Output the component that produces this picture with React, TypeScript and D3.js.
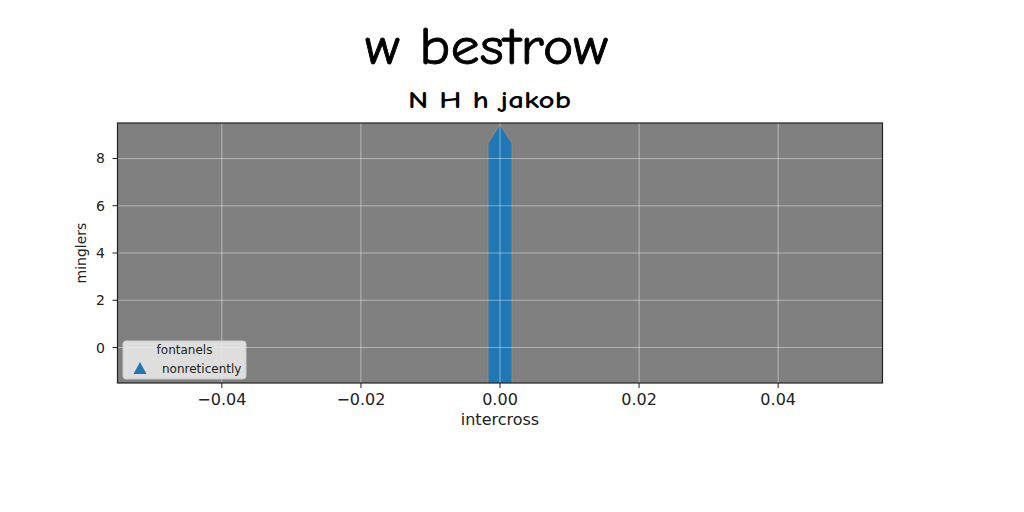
import { scaleLinear, format } from 'd3';

// chart values
const arrowX = [0];
const arrowTail = [-1.5];
const arrowTip = [9.45];
const xTicks = [-0.04, -0.02, 0, 0.02, 0.04];
const yTicks = [0, 2, 4, 6, 8];
const xDomain = [-0.055, 0.055];
const yDomain = [-1.5, 9.5];
const legendTitle = 'fontanels';
const legendLabel = 'nonreticently';

const W = 1024;
const H = 512;
const plot = { left: 117.5, right: 882.5, top: 123, bottom: 383 };

const App = () => {
  const x = scaleLinear().domain(xDomain).range([plot.left, plot.right]);
  const y = scaleLinear().domain(yDomain).range([plot.bottom, plot.top]);
  const fx = format('.2f');
  const sans = "'DejaVu Sans', sans-serif";
  const comic = "'Comic Sans MS', 'Comic Neue', 'DejaVu Sans', sans-serif";

  const halfW = 12;
  const headLen = 19;
  const arrows = arrowX.map((v, i) => {
    const cx = x(v);
    const ty = y(arrowTip[i]);
    const by = y(arrowTail[i]) + 4;
    return `M${cx - halfW},${by}L${cx - halfW},${ty + headLen}L${cx},${ty}L${cx + halfW},${ty + headLen}L${cx + halfW},${by}Z`;
  });

  return (
    <svg
      width={W}
      height={H}
      style={{ position: 'absolute', left: 0, top: 0, background: '#fff' }}
    >
      <defs>
        <clipPath id="plotclip">
          <rect x={plot.left} y={plot.top} width={plot.right - plot.left} height={plot.bottom - plot.top} />
        </clipPath>
      </defs>
      <text
        x={486.5}
        y={64}
        textAnchor="middle"
        fontFamily={comic}
        fontSize={52}
        stroke="#000"
        strokeWidth={0.8}
        textLength={243}
        lengthAdjust="spacingAndGlyphs"
        fill="#000"
      >
        w bestrow
      </text>
      <text
        x={489.5}
        y={108}
        textAnchor="middle"
        fontFamily={comic}
        fontSize={25}
        fontWeight="bold"
        textLength={163}
        lengthAdjust="spacingAndGlyphs"
        fill="#000"
      >
        N H h jakob
      </text>

      <rect x={plot.left} y={plot.top} width={plot.right - plot.left} height={plot.bottom - plot.top} fill="#808080" />

      <g clipPath="url(#plotclip)">
        {arrows.map((d, i) => (
          <path key={i} d={d} fill="#1f77b4" stroke="#9c8c78" strokeOpacity={0.6} strokeWidth={1.5} />
        ))}
        {xTicks.map((t) => (
          <line key={'gx' + t} x1={x(t)} x2={x(t)} y1={plot.top} y2={plot.bottom} stroke="#fff" strokeOpacity={0.4} strokeWidth={1.1} />
        ))}
        {yTicks.map((t) => (
          <line key={'gy' + t} x1={plot.left} x2={plot.right} y1={y(t)} y2={y(t)} stroke="#fff" strokeOpacity={0.4} strokeWidth={1.1} />
        ))}
      </g>

      <rect
        x={plot.left}
        y={plot.top}
        width={plot.right - plot.left}
        height={plot.bottom - plot.top}
        fill="none"
        stroke="#222"
        strokeWidth={1.2}
      />

      {xTicks.map((t) => (
        <g key={'tx' + t}>
          <line x1={x(t)} x2={x(t)} y1={plot.bottom} y2={plot.bottom + 5} stroke="#222" strokeWidth={1} />
          <text x={x(t)} y={405} textAnchor="middle" fontFamily={sans} fontSize={16} fill="#222">
            {fx(t)}
          </text>
        </g>
      ))}
      {yTicks.map((t) => (
        <g key={'ty' + t}>
          <line x1={plot.left - 5} x2={plot.left} y1={y(t)} y2={y(t)} stroke="#222" strokeWidth={1} />
          <text x={105} y={y(t) + 5} textAnchor="end" fontFamily={sans} fontSize={14} fill="#222">
            {t}
          </text>
        </g>
      ))}

      <text x={500} y={425} textAnchor="middle" fontFamily={sans} fontSize={16} fill="#222">
        intercross
      </text>
      <text
        transform={`translate(86,${(plot.top + plot.bottom) / 2}) rotate(-90)`}
        textAnchor="middle"
        fontFamily={sans}
        fontSize={14}
        fill="#222"
      >
        minglers
      </text>

      <g>
        <rect x={123} y={341} width={123} height={38} rx={3} fill="#e8e8e8" fillOpacity={0.9} stroke="#cccccc" strokeWidth={1} />
        <text x={184.5} y={354} textAnchor="middle" fontFamily={sans} fontSize={12} fill="#222">
          {legendTitle}
        </text>
        <path d="M140,362L146.5,374L133.5,374Z" fill="#1f77b4" />
        <text x={162} y={373} fontFamily={sans} fontSize={12} fill="#222">
          {legendLabel}
        </text>
      </g>
    </svg>
  );
};

export default App;
